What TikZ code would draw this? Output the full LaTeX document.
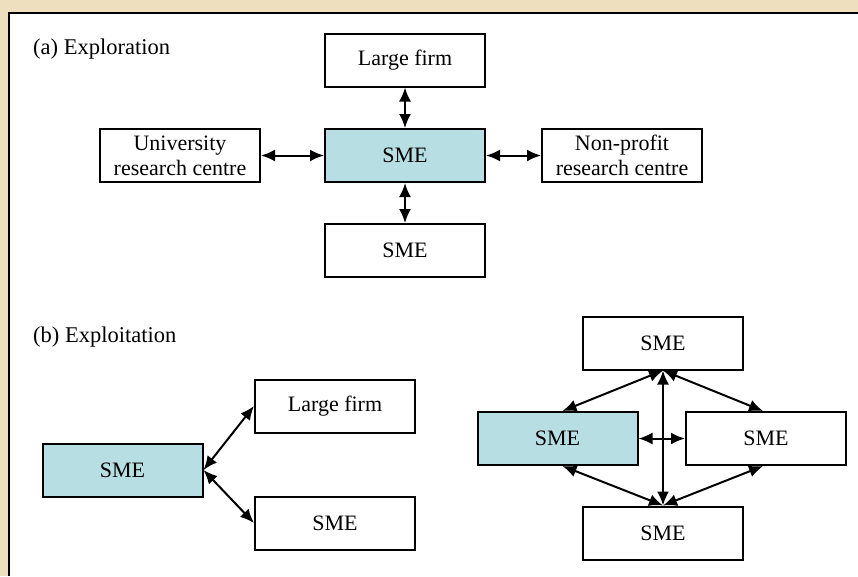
\documentclass[tikz,border=0pt]{standalone}
\usepackage{fontspec}
\setmainfont{Liberation Serif}
\usetikzlibrary{arrows.meta}
\definecolor{smefill}{RGB}{183,222,226}
\definecolor{paper}{RGB}{238,224,190}
\begin{document}
\begin{tikzpicture}[x=1pt,y=-1pt,
  box/.style={draw,line width=2pt,minimum width=160pt,minimum height=53pt,
    inner sep=0pt,align=center,font=\fontsize{22}{25}\selectfont},
  hub/.style={box,fill=smefill},
  tip/.tip={Latex[length=14pt,width=12pt]},
  link/.style={line width=2pt,tip-tip},
  caption/.style={anchor=base west,inner sep=0pt,font=\fontsize{22.5}{26}\selectfont}]

\useasboundingbox (0,0) rectangle (858,576);
% tinted margin outside the frame
\fill[paper] (0,0) rectangle (858,13);
\fill[paper] (0,0) rectangle (9,576);
\fill[white] (9,13) rectangle (858,576);
% frame (top and left edges)
\draw[line width=2.5pt] (858,13) -- (9,13) -- (9,576);

% (a) Exploration
\node[caption] (capa) at (33,54) {(a) Exploration};
\node[hub] (asme) at (405,155.5) {SME};
\node[box] (alarge) at (405,60) {Large firm};
\node[box] (auni) at (180,155.5) {University\\research centre};
\node[box] (anon) at (622,155.5) {Non-profit\\research centre};
\node[box] (asme2) at (405,250.5) {SME};
\draw[link] (alarge) -- (asme);
\draw[link] (asme) -- (asme2);
\draw[link] (auni) -- (asme);
\draw[link] (asme) -- (anon);

% (b) Exploitation
\node[caption] (capb) at (33,342) {(b) Exploitation};
\node[hub] (bsme) at (122.5,470) {SME};
\node[box] (blarge) at (335,406) {Large firm};
\node[box] (bsme2) at (335,523) {SME};
\draw[link] (bsme.east) -- (blarge.west);
\draw[link] (bsme.east) -- (bsme2.west);

% network of SMEs
\node[box] (nt) at (663,343) {SME};
\node[hub] (nl) at (557.5,438.5) {SME};
\node[box] (nr) at (766,438.5) {SME};
\node[box] (nb) at (663,533) {SME};
\draw[link] (nt.south) -- ([xshift=5pt]nl.north);
\draw[link] (nt.south) -- ([xshift=-3pt]nr.north);
\draw[link] (nt.south) -- (nb.north);
\draw[link] (nl.east) -- (nr.west);
\draw[link] (nb.north) -- ([xshift=5pt]nl.south);
\draw[link] (nb.north) -- ([xshift=-3pt]nr.south);
\end{tikzpicture}
\end{document}
